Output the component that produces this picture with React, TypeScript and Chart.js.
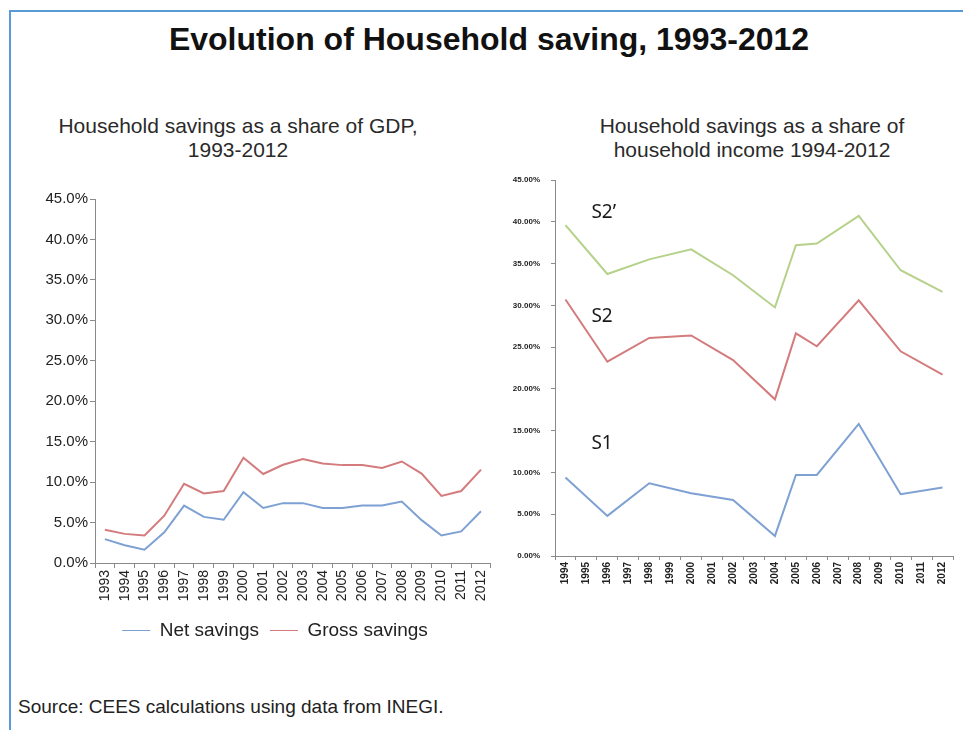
import { Chart, registerables } from 'chart.js';
import { useEffect, useRef } from 'react';

Chart.register(...registerables);

const gdpYears = [
  '1993', '1994', '1995', '1996', '1997', '1998', '1999', '2000', '2001', '2002',
  '2003', '2004', '2005', '2006', '2007', '2008', '2009', '2010', '2011', '2012',
];
const netSavings = [
  2.95, 2.2, 1.65, 3.8, 7.1, 5.7, 5.35, 8.75, 6.8, 7.4,
  7.4, 6.8, 6.8, 7.1, 7.1, 7.6, 5.3, 3.4, 3.9, 6.4,
];
const grossSavings = [
  4.1, 3.6, 3.4, 5.85, 9.8, 8.6, 8.9, 13.0, 11.0, 12.15,
  12.85, 12.3, 12.1, 12.1, 11.75, 12.55, 11.05, 8.3, 8.9, 11.55,
];

// survey years only; gaps are bridged by the line
const incomeYears = [
  '1994', '1995', '1996', '1997', '1998', '1999', '2000', '2001', '2002', '2003',
  '2004', '2005', '2006', '2007', '2008', '2009', '2010', '2011', '2012',
];
const s2prime = [
  39.6, null, 33.75, null, 35.5, null, 36.7, null, 33.6, null,
  29.75, 37.2, 37.4, null, 40.7, null, 34.2, null, 31.6,
];
const s2 = [
  30.7, null, 23.25, null, 26.1, null, 26.4, null, 23.45, null,
  18.75, 26.65, 25.1, null, 30.6, null, 24.5, null, 21.7,
];
const s1 = [
  9.4, null, 4.8, null, 8.7, null, 7.5, null, 6.7, null,
  2.4, 9.7, 9.7, null, 15.8, null, 7.4, null, 8.2,
];

const seriesTags = ['S2’', 'S2', 'S1'];
const tagLevels = [40.4, 28.0, 12.8];
const tagYear = '1995';

const BLUE = '#7ea1d3';
const RED = '#d37b7d';
const GREEN = '#b6d18a';
const AXIS = '#8a8a8a';
const FONT = '"Liberation Sans", Arial, sans-serif';

const tagPlugin = {
  id: 'seriesTags',
  afterDatasetsDraw(chart: any) {
    const { ctx, scales } = chart;
    const x = scales.x;
    const y = scales.y;
    const xi = x.getLabels().indexOf(tagYear);
    ctx.save();
    ctx.font = '19px "Noto Sans", sans-serif';
    ctx.fillStyle = '#1a1a1a';
    ctx.textBaseline = 'alphabetic';
    ctx.textAlign = 'left';
    seriesTags.forEach((t, i) => {
      ctx.fillText(t, x.getPixelForValue(xi) + 5, y.getPixelForValue(tagLevels[i]));
    });
    ctx.restore();
  },
};

// the original legend sits a little right of the canvas centre
const nudgeLegend = {
  id: 'nudgeLegend',
  afterLayout(chart: any) {
    const l = chart.legend;
    if (!l) return;
    l.left += 29;
    l.right += 29;
  },
};

const GdpChart = () => {
  const ref = useRef<HTMLCanvasElement | null>(null);
  useEffect(() => {
    if (!ref.current) return;
    const chart = new Chart(ref.current, {
      type: 'line',
      data: {
        labels: gdpYears,
        datasets: [
          { label: 'Net savings', data: netSavings, borderColor: BLUE, backgroundColor: BLUE },
          { label: 'Gross savings', data: grossSavings, borderColor: RED, backgroundColor: RED },
        ],
      },
      options: {
        animation: false,
        responsive: true,
        maintainAspectRatio: false,
        elements: {
          line: { borderWidth: 2, tension: 0 },
          point: { radius: 0 },
        },
        layout: { padding: { top: 19, right: 8, left: 0, bottom: 0 } },
        plugins: {
          tooltip: { enabled: false },
          legend: {
            position: 'bottom',
            labels: {
              usePointStyle: true,
              pointStyle: 'line',
              pointStyleWidth: 28,
              color: '#222',
              font: { family: FONT, size: 19 },
              padding: 11,
            },
          },
        },
        scales: {
          x: {
            offset: true,
            grid: { offset: true, drawOnChartArea: false, tickLength: 5, color: AXIS },
            border: { color: AXIS },
            ticks: {
              autoSkip: false,
              minRotation: 90,
              maxRotation: 90,
              padding: 2,
              color: '#222',
              font: { family: FONT, size: 14 },
            },
            afterFit: (s: any) => { s.height = 47; },
          },
          y: {
            min: 0,
            max: 45,
            grid: { drawOnChartArea: false, tickLength: 5, color: AXIS },
            border: { color: AXIS },
            ticks: {
              stepSize: 5,
              padding: 2,
              color: '#222',
              font: { family: FONT, size: 15 },
              callback: (v: any) => Number(v).toFixed(1) + '%',
            },
            afterFit: (s: any) => { s.width = 95; },
          },
        },
      },
      plugins: [nudgeLegend],
    });
    return () => chart.destroy();
  }, []);
  return (
    <div style={{ position: 'absolute', left: 0, top: 180, width: 500, height: 470 }}>
      <canvas ref={ref} />
    </div>
  );
};

const IncomeChart = () => {
  const ref = useRef<HTMLCanvasElement | null>(null);
  useEffect(() => {
    if (!ref.current) return;
    const chart = new Chart(ref.current, {
      type: 'line',
      data: {
        labels: incomeYears,
        datasets: [
          { label: 'S2’', data: s2prime, borderColor: GREEN },
          { label: 'S2', data: s2, borderColor: RED },
          { label: 'S1', data: s1, borderColor: BLUE },
        ],
      },
      options: {
        animation: false,
        responsive: true,
        maintainAspectRatio: false,
        spanGaps: true,
        elements: {
          line: { borderWidth: 2, tension: 0 },
          point: { radius: 0 },
        },
        layout: { padding: { top: 10, right: 10, left: 0, bottom: 0 } },
        plugins: {
          tooltip: { enabled: false },
          legend: { display: false },
        },
        scales: {
          x: {
            offset: true,
            grid: { offset: true, drawOnChartArea: false, tickLength: 4, color: AXIS },
            border: { color: AXIS },
            ticks: {
              autoSkip: false,
              minRotation: 90,
              maxRotation: 90,
              padding: 2,
              color: '#222',
              font: { family: FONT, size: 10, weight: 'bold' },
            },
            afterFit: (s: any) => { s.height = 44; },
          },
          y: {
            min: 0,
            max: 45,
            grid: { drawOnChartArea: false, tickLength: 4, color: AXIS },
            border: { color: AXIS },
            ticks: {
              stepSize: 5,
              padding: 11,
              color: '#222',
              font: { family: FONT, size: 8, weight: 'bold' },
              callback: (v: any) => Number(v).toFixed(2) + '%',
            },
            afterFit: (s: any) => {
              s.width = 55;
              s.paddingTop = 5;
              s.paddingBottom = 5;
            },
          },
        },
      },
      plugins: [tagPlugin],
    });
    return () => chart.destroy();
  }, []);
  return (
    <div style={{ position: 'absolute', left: 500, top: 170, width: 463, height: 430 }}>
      <canvas ref={ref} />
    </div>
  );
};

const App = () => {
  return (
    <div
      style={{
        position: 'absolute',
        left: 0,
        top: 0,
        width: 963,
        height: 730,
        overflow: 'hidden',
        background: '#fff',
        fontFamily: FONT,
      }}
    >
      <div
        style={{
          position: 'absolute',
          left: 9,
          top: 10,
          width: 960,
          height: 730,
          borderTop: '2px solid #5b9bd5',
          borderLeft: '2px solid #5b9bd5',
        }}
      />
      <div
        style={{
          position: 'absolute',
          left: 0,
          top: 23,
          width: 978,
          textAlign: 'center',
          fontSize: 32,
          lineHeight: '32px',
          fontWeight: 'bold',
          color: '#111',
        }}
      >
        Evolution of Household saving, 1993-2012
      </div>
      <div
        style={{
          position: 'absolute',
          left: 38,
          top: 114,
          width: 400,
          textAlign: 'center',
          fontSize: 21,
          lineHeight: '24px',
          color: '#2a2a2a',
        }}
      >
        Household savings as a share of GDP,
        <br />
        1993-2012
      </div>
      <div
        style={{
          position: 'absolute',
          left: 552,
          top: 114,
          width: 400,
          textAlign: 'center',
          fontSize: 21,
          lineHeight: '24px',
          color: '#2a2a2a',
        }}
      >
        Household savings as a share of
        <br />
        household income 1994-2012
      </div>
      <GdpChart />
      <IncomeChart />
      <div
        style={{
          position: 'absolute',
          left: 18,
          top: 696,
          fontSize: 19,
          lineHeight: '22px',
          color: '#222',
        }}
      >
        Source: CEES calculations using data from INEGI.
      </div>
    </div>
  );
};

export default App;
